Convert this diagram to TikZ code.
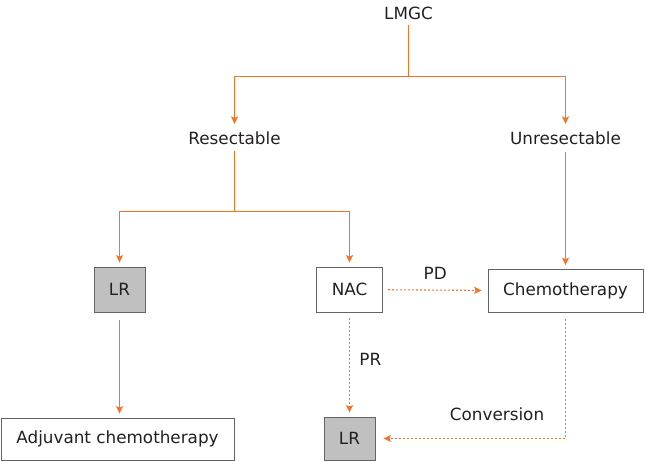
\documentclass[tikz,border=0pt]{standalone}
\usepackage{fontspec}
\setmainfont{DejaVu Sans}
\usetikzlibrary{arrows.meta}
\definecolor{orangef}{RGB}{245,115,40}
\definecolor{grisf}{RGB}{192,192,192}
\definecolor{bord}{RGB}{100,100,100}
\definecolor{texte}{RGB}{35,31,32}

\tikzset{boite/.style={draw=bord,line width=0.8pt,fill=#1,minimum height=45pt},
boite/.default={white},
trait/.style={draw=orangef,line width=1.1pt},
fleche/.style={trait,-{Stealth[length=7.5pt,width=7pt,inset=1.5pt]},shorten >=4pt},
pointille/.style={fleche,dash pattern=on 2pt off 2pt}}

\begin{document}
\begin{tikzpicture}[x=1pt,y=1pt,font=\fontsize{16.8}{20}\selectfont,text=texte]
\useasboundingbox (0,0) rectangle (647,462);
\node (lmgc) at (408.5,449) {LMGC};
\node (resec) at (234.5,324) {Resectable};
\node (unresec) at (565.5,324) {Unresectable};
\node [boite=grisf,minimum width=51pt] (lr1) at (119.5,172.5) {LR};
\node [boite,minimum width=66pt] (nac) at (349.5,172.5) {NAC};
\node [boite,minimum width=155pt,minimum height=43pt] (chimio) at (565.5,171) {Chemotherapy};
\node [boite,minimum width=233pt,minimum height=42pt] (adjuv) at (117.5,23) {Adjuvant chemotherapy};
\node [boite=grisf,minimum width=51pt,minimum height=43pt] (lr2) at (349.5,23.5) {LR};
\coordinate (b1) at (408.5,385.5);
\coordinate (b2) at (234.5,250.5);
\draw[trait,shorten <=2pt] (lmgc) -- (b1);
\draw[fleche] (b1) -| (resec.north);
\draw[fleche] (b1) -| (unresec.north);
\draw[trait,shorten <=3pt] (resec) -- (b2);
\draw[fleche] (b2) -| (lr1.north);
\draw[fleche] (b2) -| (nac.north);
\draw[fleche,shorten <=4pt] (unresec) -- (chimio);
\draw[fleche,shorten <=8pt] (lr1.south) -- (lr1.south |- adjuv.north);
\draw[pointille,shorten <=5pt,shorten >=6pt] (nac) -- node[above=7pt] {PD} (chimio);
\draw[pointille,shorten <=6pt] (nac) -- node[right=6pt,pos=0.45] {PR} (lr2);
\draw[pointille,shorten <=6pt,shorten >=8pt] (chimio.south) |- node[above=14pt,pos=0.68] {Conversion} (lr2.east);
\end{tikzpicture}
\end{document}
